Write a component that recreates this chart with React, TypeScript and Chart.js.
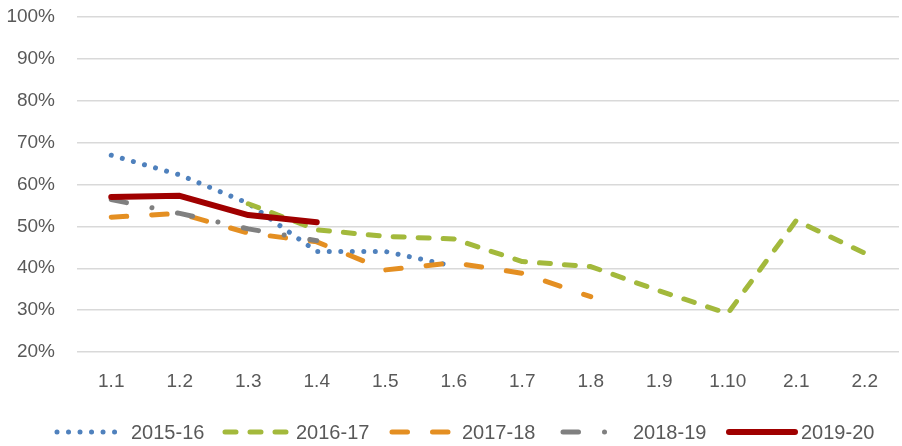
import React, { useEffect, useRef } from "react";
import { Chart, registerables } from "chart.js";

Chart.register(...registerables);

const categories = ["1.1", "1.2", "1.3", "1.4", "1.5", "1.6", "1.7", "1.8", "1.9", "1.10", "2.1", "2.2"];
const s2015 = [67, 62.3, 55.5, 44, 44, 40.5, null, null, null, null, null, null];
const s2016 = [null, null, 55.4, 49.2, 47.6, 47, 41.6, 40.4, 34.6, 29.2, 51.4, 43.6];
const s2017 = [52.2, 53.1, 48.4, 46.3, 39.6, 41.3, 38.8, 33.2, null, null, null, null];
const s2018 = [56.4, 53.1, 49.4, 46.6, null, null, null, null, null, null, null, null];
const s2019 = [57, 57.3, 52.7, 51];
const seriesNames = ["2015-16", "2016-17", "2017-18", "2018-19", "2019-20"];
const yTicks = { min: 20, max: 100, step: 10 };

const FONT = "'Liberation Sans', Arial, sans-serif";
const TEXT = "#595959";

const styles = [
  { color: "#4f81bd", width: 5, dash: [0.01, 11.5] },
  { color: "#a3b93c", width: 5, dash: [11, 14] },
  { color: "#e48f22", width: 5, dash: [15.5, 25] },
  { color: "#808080", width: 5, dash: [15.5, 26, 0.01, 26] },
  { color: "#a00000", width: 6, dash: [] as number[] },
];

const legendPlugin = {
  id: "customLegend",
  afterDraw(chart: any) {
    const ctx = chart.ctx;
    const y = 432;
    const items = [
      { x0: 57, x1: 121, tx: 131 },
      { x0: 225, x1: 289, tx: 296 },
      { x0: 392, x1: 456, tx: 462 },
      { x0: 563, x1: 627, tx: 633 },
      { x0: 729, x1: 795, tx: 801 },
    ];
    ctx.save();
    items.forEach((it, i) => {
      const s = styles[i];
      ctx.beginPath();
      ctx.strokeStyle = s.color;
      ctx.lineWidth = s.width;
      ctx.lineCap = "round";
      ctx.setLineDash(s.dash);
      ctx.moveTo(it.x0, y);
      ctx.lineTo(it.x1, y);
      ctx.stroke();
      ctx.setLineDash([]);
      ctx.fillStyle = TEXT;
      ctx.font = `20px ${FONT}`;
      ctx.textBaseline = "middle";
      ctx.textAlign = "left";
      ctx.fillText(seriesNames[i], it.tx, y + 1);
    });
    ctx.restore();
  },
};

export default function App() {
  const ref = useRef<HTMLCanvasElement>(null);
  useEffect(() => {
    const all = [s2015, s2016, s2017, s2018, s2019];
    const chart = new Chart(ref.current!, {
      type: "line",
      data: {
        labels: categories,
        datasets: all.map((d, i) => ({
          label: seriesNames[i],
          data: d,
          borderColor: styles[i].color,
          backgroundColor: styles[i].color,
          borderWidth: styles[i].width,
          borderDash: styles[i].dash,
          borderCapStyle: "round",
          borderJoinStyle: "round",
          pointRadius: 0,
          tension: 0,
          fill: false,
          spanGaps: false,
          order: 5 - i,
        })),
      },
      options: {
        animation: false,
        responsive: false,
        maintainAspectRatio: false,
        layout: { padding: { top: 17, left: 0, right: 3, bottom: 0 } },
        plugins: { legend: { display: false }, tooltip: { enabled: false } },
        scales: {
          x: {
            offset: true,
            grid: { display: false, drawTicks: false },
            border: { display: false },
            ticks: { color: TEXT, font: { family: FONT, size: 19 }, padding: 18, maxRotation: 0, autoSkip: false },
            afterFit: (s: any) => { s.height = 94; },
          },
          y: {
            min: yTicks.min,
            max: yTicks.max,
            ticks: {
              stepSize: yTicks.step,
              color: TEXT,
              font: { family: FONT, size: 19 },
              padding: 22,
              callback: (v: any) => `${v}%`,
            },
            grid: { color: "#d9d9d9", lineWidth: 1.5, drawTicks: false },
            border: { display: false },
            afterFit: (s: any) => { s.width = 77; s.paddingTop = 0; s.paddingBottom = 0; },
          },
        },
      },
      plugins: [legendPlugin],
    });
    return () => chart.destroy();
  }, []);
  return (
    <div style={{ position: "fixed", left: 0, top: 0, width: 902, height: 446, background: "#fff" }}>
      <canvas ref={ref} width={902} height={446} style={{ display: "block" }} />
    </div>
  );
}
